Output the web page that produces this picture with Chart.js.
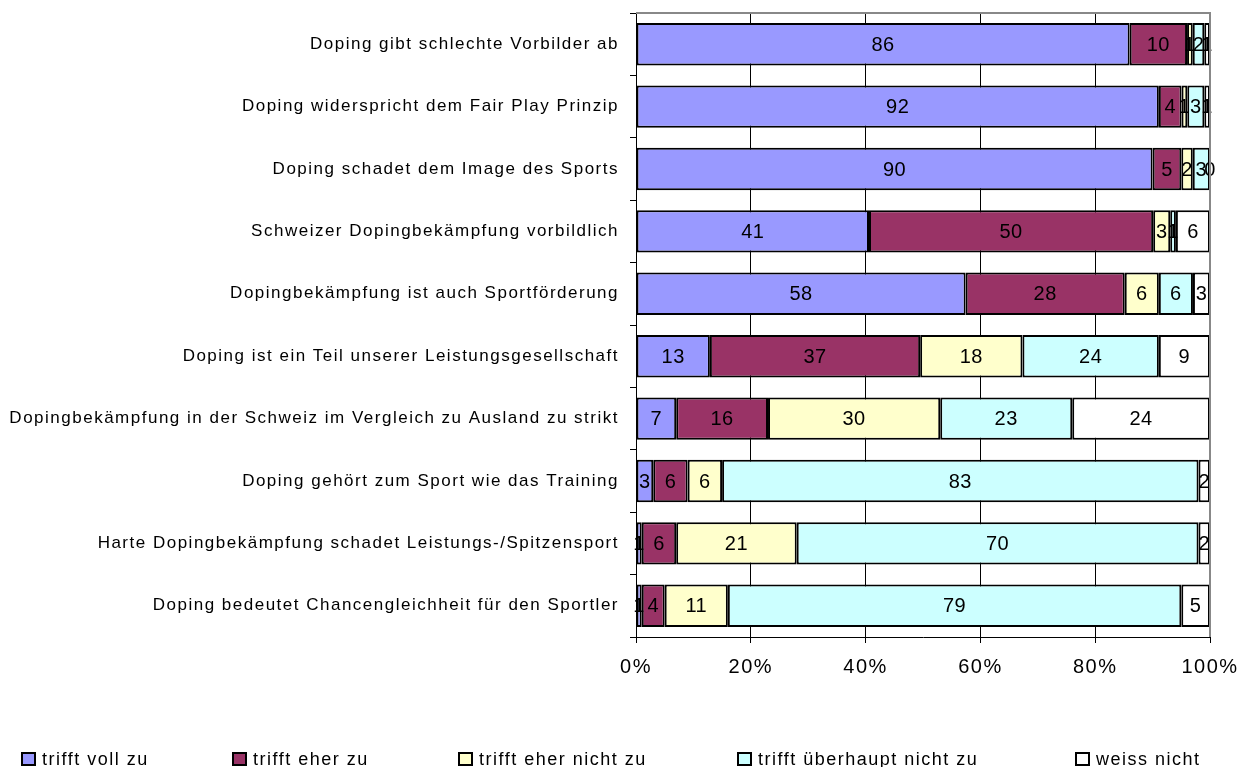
<!DOCTYPE html>
<html>
<head>
<meta charset="utf-8">
<script src="https://cdn.jsdelivr.net/npm/chart.js@4"></script>
<style>
    body { margin: 0; background: #fff; font-family: "Liberation Sans", Arial, sans-serif; }
    #wrap { position: relative; width: 1253px; height: 767px; }
    #legend { position: absolute; left: 0; top: 748px; width: 1253px; height: 22px; }
    .lg-item { position: absolute; top: 0; font-size: 18px; letter-spacing: 1.5px; color: #000; white-space: nowrap; line-height: 22px; }
    .lg-box { display: inline-block; width: 11px; height: 10px; border: 2px solid #000; margin-right: 6px; vertical-align: -1px; }
</style>
</head>
<body>
<div id="wrap">
    <canvas id="dopingChart" width="1253" height="767"></canvas>
    <div id="legend"></div>
</div>
<script>
// Statements (top to bottom)
const statements = [
    'Doping gibt schlechte Vorbilder ab',
    'Doping widerspricht dem Fair Play Prinzip',
    'Doping schadet dem Image des Sports',
    'Schweizer Dopingbekämpfung vorbildlich',
    'Dopingbekämpfung ist auch Sportförderung',
    'Doping ist ein Teil unserer Leistungsgesellschaft',
    'Dopingbekämpfung in der Schweiz im Vergleich zu Ausland zu strikt',
    'Doping gehört zum Sport wie das Training',
    'Harte Dopingbekämpfung schadet Leistungs-/Spitzensport',
    'Doping bedeutet Chancengleichheit für den Sportler'
];

const seriesNames = ['trifft voll zu', 'trifft eher zu', 'trifft eher nicht zu', 'trifft überhaupt nicht zu', 'weiss nicht'];
const seriesColors = ['#9999FF', '#993366', '#FFFFCC', '#CCFFFF', '#FFFFFF'];

// answers in percent, one array per answer
const triffVoll      = [86, 92, 90, 41, 58, 13,  7,  3,  1,  1];
const triffEher      = [10,  4,  5, 50, 28, 37, 16,  6,  6,  4];
const eherNicht      = [ 1,  1,  2,  3,  6, 18, 30,  6, 21, 11];
const ueberhauptNicht= [ 2,  3,  3,  1,  6, 24, 23, 83, 70, 79];
const weissNicht     = [ 1,  1,  0,  6,  3,  9, 24,  2,  2,  5];

const xTicks = [0, 20, 40, 60, 80, 100];

const rawSeries = [triffVoll, triffEher, eherNicht, ueberhauptNicht, weissNicht];
const rowTotals = statements.map((s, i) => rawSeries.reduce((sum, arr) => sum + arr[i], 0));

const datasets = rawSeries.map((arr, k) => ({
    label: seriesNames[k],
    raw: arr,
    data: arr.map((v, i) => v / rowTotals[i] * 100),
    backgroundColor: seriesColors[k],
    borderColor: '#000',
    borderWidth: 2,
    borderSkipped: false,
    barPercentage: 0.68,
    categoryPercentage: 1
}));

// the old chart has wide spaced text
const textSpacing = {
    id: 'textSpacing',
    beforeDraw(chart) {
        chart.ctx.letterSpacing = '1.5px';
    }
};

// value labels in the middle of each segment
const valueLabels = {
    id: 'valueLabels',
    afterDatasetsDraw(chart) {
        const ctx = chart.ctx;
        ctx.save();
        ctx.letterSpacing = '0.5px';
        ctx.font = '20px "Liberation Sans", Arial, sans-serif';
        ctx.fillStyle = '#000';
        ctx.textAlign = 'center';
        ctx.textBaseline = 'middle';
        chart.data.datasets.forEach((ds, k) => {
            chart.getDatasetMeta(k).data.forEach((bar, i) => {
                const x = (bar.x + bar.base) / 2;
                ctx.fillText(String(ds.raw[i]), x, bar.y + 1);
            });
        });
        ctx.restore();
    }
};

// grey frame on top and right of plot area
const plotFrame = {
    id: 'plotFrame',
    afterDraw(chart) {
        const a = chart.chartArea;
        const ctx = chart.ctx;
        ctx.save();
        ctx.strokeStyle = '#888';
        ctx.lineWidth = 2;
        ctx.beginPath();
        ctx.moveTo(a.left, a.top);
        ctx.lineTo(a.right, a.top);
        ctx.lineTo(a.right, a.bottom);
        ctx.stroke();
        ctx.restore();
    }
};

const ctx = document.getElementById('dopingChart').getContext('2d');
const dopingChart = new Chart(ctx, {
    type: 'bar',
    data: {
        labels: statements,
        datasets: datasets
    },
    options: {
        indexAxis: 'y',
        responsive: false,
        animation: false,
        layout: {
            padding: { top: 13, right: 43, bottom: 0, left: 0 }
        },
        plugins: {
            legend: { display: false },
            tooltip: { enabled: false }
        },
        scales: {
            x: {
                stacked: true,
                min: 0,
                max: 100,
                afterBuildTicks: scale => { scale.ticks = xTicks.map(v => ({ value: v })); },
                ticks: {
                    callback: v => v + '%',
                    color: '#000',
                    padding: 12,
                    font: { family: '"Liberation Sans", Arial, sans-serif', size: 20 }
                },
                grid: {
                    color: ctx => ctx.tick && ctx.tick.value === 100 ? '#888' : '#000',
                    lineWidth: 1,
                    tickLength: 6,
                    tickColor: '#000'
                },
                border: { color: '#000', width: 1 },
                afterFit: scale => { scale.height = 130; }
            },
            y: {
                stacked: true,
                ticks: {
                    color: '#000',
                    padding: 11,
                    font: { family: '"Liberation Sans", Arial, sans-serif', size: 17 }
                },
                grid: {
                    drawOnChartArea: false,
                    offset: true,
                    tickLength: 6,
                    color: '#000'
                },
                border: { color: '#000', width: 1 },
                afterFit: scale => {
                    scale.width = 636;
                    scale.paddingTop = 0;
                    scale.paddingBottom = 0;
                }
            }
        }
    },
    plugins: [textSpacing, valueLabels, plotFrame]
});

// Legend
const legendLeft = [21, 232, 458, 737, 1075];
const legendEl = document.getElementById('legend');
seriesNames.forEach((name, k) => {
    const item = document.createElement('div');
    item.className = 'lg-item';
    item.style.left = legendLeft[k] + 'px';
    item.innerHTML = '<span class="lg-box" style="background:' + seriesColors[k] + '"></span>' + name;
    legendEl.appendChild(item);
});
</script>
</body>
</html>
